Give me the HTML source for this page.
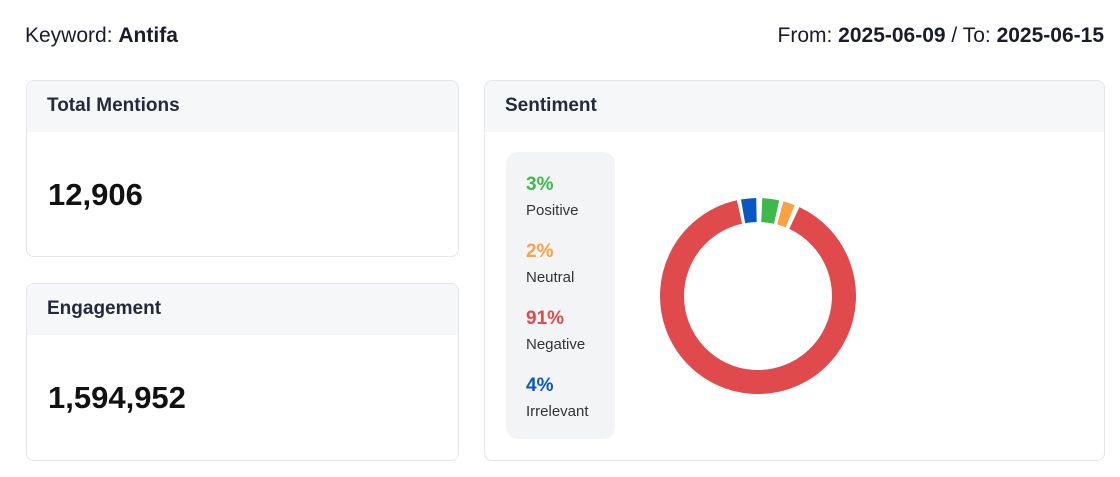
<!DOCTYPE html>
<html><head><meta charset="utf-8"><style>
*{box-sizing:border-box;margin:0;padding:0}
body{width:1120px;height:477px;background:#fff;font-family:"Liberation Sans",sans-serif;color:#1a1d29;position:relative;overflow:hidden}
.top{position:absolute;top:24px;font-size:21px}
.card{position:absolute;border:1px solid #e4e6eb;border-radius:8px;overflow:hidden;background:#fff}
.hd{background:#f6f7f9;height:51px;padding:14px 20px;font-size:19px;font-weight:bold;color:#252a3a}
.num{position:absolute;left:21px;font-size:31px;font-weight:bold;color:#111}
.leg{position:absolute;left:21px;top:71px;width:109px;height:287px;background:#f3f4f6;border-radius:12px;padding:22px 0 0 20px}
.p{font-size:19px;font-weight:bold;line-height:22px}
.l{font-size:15px;color:#333;line-height:18px;margin-bottom:21px;margin-top:6px}
</style></head><body>
<div class="top" style="left:25px">Keyword: <b>Antifa</b></div>
<div class="top" style="right:16px">From: <b>2025-06-09</b> / To: <b>2025-06-15</b></div>
<div class="card" style="left:26px;top:80px;width:433px;height:177px"><div class="hd">Total Mentions</div><div class="num" style="top:96px">12,906</div></div>
<div class="card" style="left:26px;top:283px;width:433px;height:178px"><div class="hd">Engagement</div><div class="num" style="top:96px">1,594,952</div></div>
<div class="card" style="left:484px;top:80px;width:621px;height:381px"><div class="hd">Sentiment</div>
<div class="leg">
<div class="p" style="color:#3cb94a">3%</div><div class="l">Positive</div>
<div class="p" style="color:#f7a243">2%</div><div class="l">Neutral</div>
<div class="p" style="color:#e04a4c">91%</div><div class="l">Negative</div>
<div class="p" style="color:#0a57c2">4%</div><div class="l">Irrelevant</div>
</div>
<svg style="position:absolute;left:0;top:0" width="621" height="381">
<g transform="translate(273,215)" fill="none" stroke-width="24">
<circle r="86" stroke="#0a57c2" stroke-dasharray="13.5 1000" transform="rotate(-100)"/>
<circle r="86" stroke="#3cb94a" stroke-dasharray="15 1000" transform="rotate(-87.5)"/>
<circle r="86" stroke="#f7a243" stroke-dasharray="10.5 1000" transform="rotate(-75)"/>
<circle r="86" stroke="#e04a4c" stroke-dasharray="484 1000" transform="rotate(-65)"/>
</g></svg>
</div>
</body></html>
